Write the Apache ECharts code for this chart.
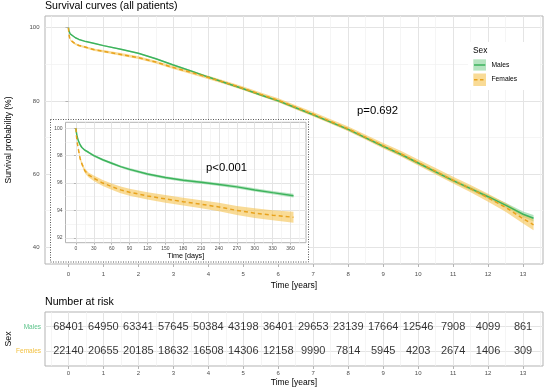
<!DOCTYPE html>
<html><head><meta charset="utf-8">
<script src="https://cdn.jsdelivr.net/npm/echarts@6/dist/echarts.min.js"></script>
<style>html,body{margin:0;padding:0;background:#fff}#c{width:550px;height:391px}</style>
</head><body><div id="c"></div>
<script>
// ---------------- DATA ----------------
// Main curves (time in years, survival %)
const yearsT = [0, 0.01, 0.02, 0.05, 0.1, 0.2, 0.3, 0.5, 0.75, 1, 1.5, 2, 2.5, 3, 3.5, 4, 4.5, 5, 5.5, 6, 6.5, 7, 7.5, 8, 8.5, 9, 9.5, 10, 10.5, 11, 11.5, 12, 12.5, 13, 13.3];
const malesMain = [100, 99.3, 98.8, 98.3, 97.9, 97.25, 96.8, 96.2, 95.7, 95.1, 94.1, 93.0, 91.5, 89.8, 88.2, 86.5, 84.9, 83.3, 81.6, 80.0, 78.1, 76.2, 74.2, 72.2, 69.9, 67.6, 65.4, 63.0, 60.6, 58.2, 56.0, 53.8, 51.5, 49.0, 47.9];
const femalesMain = [100, 98.7, 97.8, 96.7, 96.2, 95.55, 95.15, 94.64, 93.95, 93.55, 92.7, 91.8, 90.6, 89.1, 87.8, 86.4, 84.95, 83.4, 81.75, 80.15, 78.25, 76.35, 74.35, 72.35, 70.05, 67.75, 65.55, 63.15, 60.75, 58.3, 56.0, 53.5, 50.9, 47.8, 46.1];
const malesMainCI = [0, 0.05, 0.08, 0.1, 0.1, 0.12, 0.12, 0.13, 0.14, 0.15, 0.17, 0.18, 0.2, 0.2, 0.22, 0.22, 0.24, 0.25, 0.26, 0.28, 0.3, 0.3, 0.32, 0.34, 0.36, 0.38, 0.4, 0.42, 0.45, 0.48, 0.52, 0.56, 0.62, 0.75, 0.9];
const femalesMainCI = [0, 0.1, 0.15, 0.2, 0.22, 0.25, 0.27, 0.3, 0.32, 0.34, 0.36, 0.38, 0.4, 0.42, 0.44, 0.46, 0.48, 0.5, 0.52, 0.55, 0.58, 0.6, 0.63, 0.66, 0.7, 0.74, 0.78, 0.82, 0.87, 0.92, 1.0, 1.1, 1.2, 1.35, 1.5];

// Inset curves (time in days, survival %)
const daysT = [0, 1, 2, 4, 7, 10, 15, 21, 30, 45, 60, 75, 90, 120, 150, 180, 210, 240, 270, 300, 330, 365];
const malesInset = [100, 99.65, 99.4, 99.1, 98.8, 98.6, 98.4, 98.25, 98.0, 97.7, 97.45, 97.2, 97.0, 96.66, 96.4, 96.2, 96.05, 95.9, 95.72, 95.5, 95.3, 95.08];
const femalesInset = [100, 99.4, 99.0, 98.5, 97.8, 97.4, 96.9, 96.6, 96.35, 96.0, 95.74, 95.5, 95.33, 95.06, 94.84, 94.64, 94.45, 94.25, 94.0, 93.8, 93.65, 93.5];
const malesInsetCI = [0, 0.02, 0.03, 0.04, 0.05, 0.06, 0.07, 0.07, 0.08, 0.08, 0.09, 0.09, 0.1, 0.1, 0.1, 0.11, 0.11, 0.11, 0.12, 0.12, 0.12, 0.13];
const femalesInsetCI = [0, 0.05, 0.08, 0.1, 0.13, 0.15, 0.17, 0.18, 0.2, 0.22, 0.23, 0.24, 0.25, 0.27, 0.28, 0.29, 0.3, 0.31, 0.33, 0.35, 0.37, 0.4];

// Number at risk
const riskYears = [0, 1, 2, 3, 4, 5, 6, 7, 8, 9, 10, 11, 12, 13];
const malesRisk = [68401, 64950, 63341, 57645, 50384, 43198, 36401, 29653, 23139, 17664, 12546, 7908, 4099, 861];
const femalesRisk = [22140, 20655, 20185, 18632, 16508, 14306, 12158, 9990, 7814, 5945, 4203, 2674, 1406, 309];

// Tick labels
const mainYTicks = [40, 60, 80, 100];
const mainYMinor = [50, 70, 90];
const mainXTicks = [0, 1, 2, 3, 4, 5, 6, 7, 8, 9, 10, 11, 12, 13];
const mainXMinor = [-0.5, 0.5, 1.5, 2.5, 3.5, 4.5, 5.5, 6.5, 7.5, 8.5, 9.5, 10.5, 11.5, 12.5, 13.5];
const insetXTicks = [0, 30, 60, 90, 120, 150, 180, 210, 240, 270, 300, 330, 360];
const insetXMinor = [15, 45, 75, 105, 135, 165, 195, 225, 255, 285, 315, 345, 375];
const insetYTicks = [92, 94, 96, 98, 100];
const insetYMinor = [93, 95, 97, 99];

// ---------------- STYLE ----------------
const FONT = 'Liberation Sans, Arial, Helvetica, sans-serif';
const GREEN = '#3DB35C', ORANGE = '#E8A21C';
const GREEN_BAND = 'rgba(120,205,140,0.55)', ORANGE_BAND = 'rgba(245,195,80,0.6)';
const GRID_MAJ = '#E4E4E4', GRID_MIN = '#F0F0F0', BORDER = '#B3B3B3', LABEL = '#4D4D4D';

function pairs(xs, ys) { return xs.map((x, i) => [x, ys[i]]); }

function curve(name, xs, ys, ci, xi, yi, color, band, dashed, z) {
  const lo = ys.map((v, i) => v - ci[i]);
  const hi = ys.map((v, i) => v + ci[i]);
  return [
    { type: 'custom', name: name + '_ci', xAxisIndex: xi, yAxisIndex: yi, silent: true, z: z, animation: false,
      data: [[xs[0], ys[0]]],
      renderItem: function (params, api) {
        const pts = [];
        for (let i = 0; i < xs.length; i++) pts.push(api.coord([xs[i], hi[i]]));
        for (let i = xs.length - 1; i >= 0; i--) pts.push(api.coord([xs[i], lo[i]]));
        return { type: 'polygon', shape: { points: pts }, style: { fill: band, stroke: null } };
      } },
    { type: 'line', name: name, xAxisIndex: xi, yAxisIndex: yi, data: pairs(xs, ys),
      symbol: 'none', lineStyle: { color: color, width: 1.5, type: dashed ? [4, 3] : 'solid' }, z: z + 1, animation: false }
  ];
}

function valAxis(o) {
  return Object.assign({
    type: 'value', axisLine: { show: false }, nameMoveOverlap: false,
    axisTick: { show: true, length: 3, lineStyle: { color: BORDER, width: 1 } },
    axisLabel: { fontSize: 6, color: LABEL, fontFamily: FONT },
    splitLine: { show: true, lineStyle: { color: GRID_MAJ, width: 1 } },
    nameTextStyle: { fontFamily: FONT, color: '#000' }
  }, o);
}
function minorAxis(o) {
  return Object.assign({
    type: 'value', axisLine: { show: false }, axisTick: { show: false }, axisLabel: { show: false },
    splitLine: { show: true, lineStyle: { color: GRID_MIN, width: 0.7 } }
  }, o);
}

const MX = [-0.67, 13.57];
const MY = [35.4, 103.2];
const IX = [-17.5, 386];
const IY = [91.64, 100.44];

const series = [];
series.push(...curve('Males', yearsT, malesMain, malesMainCI, 0, 0, GREEN, GREEN_BAND, false, 2));
series.push(...curve('Females', yearsT, femalesMain, femalesMainCI, 0, 0, ORANGE, ORANGE_BAND, true, 2));
series.push(...curve('MalesInset', daysT, malesInset, malesInsetCI, 2, 2, GREEN, GREEN_BAND, false, 8));
series.push(...curve('FemalesInset', daysT, femalesInset, femalesInsetCI, 2, 2, ORANGE, ORANGE_BAND, true, 8));
series.push({
  type: 'scatter', xAxisIndex: 4, yAxisIndex: 4, symbolSize: 0, animation: false,
  data: riskYears.map((t, i) => [t, 2, malesRisk[i]]),
  label: { show: true, position: 'inside', formatter: p => String(p.value[2]), fontSize: 11, color: '#000', fontFamily: FONT }
});
series.push({
  type: 'scatter', xAxisIndex: 4, yAxisIndex: 4, symbolSize: 0, animation: false,
  data: riskYears.map((t, i) => [t, 1, femalesRisk[i]]),
  label: { show: true, position: 'inside', formatter: p => String(p.value[2]), fontSize: 11, color: '#000', fontFamily: FONT }
});

const option = {
  backgroundColor: '#fff',
  animation: false,
  textStyle: { fontFamily: FONT },
  title: [
    { text: 'Survival curves (all patients)', left: 45, top: 1, padding: 0, textStyle: { fontSize: 10.6, fontWeight: 'normal', color: '#000', fontFamily: FONT } },
    { text: 'Number at risk', left: 45, top: 296.5, padding: 0, textStyle: { fontSize: 10.6, fontWeight: 'normal', color: '#000', fontFamily: FONT } }
  ],
  grid: [
    { left: 45, top: 16, width: 498, height: 248, show: true, borderColor: BORDER, borderWidth: 1, backgroundColor: '#fff', z: 0, containLabel: false, outerBoundsMode: 'none' },
    { left: 65.5, top: 122.3, width: 240.5, height: 120.4, show: true, borderColor: BORDER, borderWidth: 1, backgroundColor: '#fff', z: 4, containLabel: false, outerBoundsMode: 'none' },
    { left: 45, top: 312, width: 498, height: 54, show: true, borderColor: BORDER, borderWidth: 1, backgroundColor: '#fff', z: 0, containLabel: false, outerBoundsMode: 'none' }
  ],
  xAxis: [
    valAxis({ gridIndex: 0, min: MX[0], max: MX[1],
      axisTick: { show: true, length: 3, customValues: mainXTicks, lineStyle: { color: BORDER } },
      axisLabel: { customValues: mainXTicks, fontSize: 6, color: LABEL, margin: 7.5, fontFamily: FONT },
      name: 'Time [years]', nameLocation: 'middle', nameGap: 17, nameTextStyle: { fontSize: 8.5, color: '#000', fontFamily: FONT } }),
    minorAxis({ gridIndex: 0, min: MX[0], max: MX[1], axisTick: { show: false, customValues: mainXMinor } }),
    valAxis({ gridIndex: 1, min: IX[0], max: IX[1], z: 5,
      axisTick: { show: true, length: 2, customValues: insetXTicks, lineStyle: { color: BORDER } },
      axisLabel: { customValues: insetXTicks, fontSize: 5, color: LABEL, margin: 3, fontFamily: FONT },
      name: 'Time [days]', nameLocation: 'middle', nameGap: 10, nameTextStyle: { fontSize: 7.2, color: '#000', fontFamily: FONT } }),
    minorAxis({ gridIndex: 1, min: IX[0], max: IX[1], z: 5, axisTick: { show: false, customValues: insetXMinor } }),
    valAxis({ gridIndex: 2, min: MX[0], max: MX[1],
      axisTick: { show: true, length: 3, customValues: mainXTicks, lineStyle: { color: BORDER } },
      axisLabel: { customValues: mainXTicks, fontSize: 6, color: LABEL, margin: 4.5, fontFamily: FONT },
      name: 'Time [years]', nameLocation: 'middle', nameGap: 12.5, nameTextStyle: { fontSize: 8.5, color: '#000', fontFamily: FONT } }),
    minorAxis({ gridIndex: 2, min: MX[0], max: MX[1], axisTick: { show: false, customValues: mainXMinor } })
  ],
  yAxis: [
    valAxis({ gridIndex: 0, min: MY[0], max: MY[1],
      axisTick: { show: true, length: 3, customValues: mainYTicks, lineStyle: { color: BORDER } },
      axisLabel: { customValues: mainYTicks, fontSize: 6, color: LABEL, margin: 5.5, fontFamily: FONT },
      name: 'Survival probability (%)', nameLocation: 'middle', nameGap: 32, nameTextStyle: { fontSize: 8.5, color: '#000', fontFamily: FONT } }),
    minorAxis({ gridIndex: 0, min: MY[0], max: MY[1], axisTick: { show: false, customValues: mainYMinor } }),
    valAxis({ gridIndex: 1, min: IY[0], max: IY[1], z: 5,
      axisTick: { show: true, length: 2, customValues: insetYTicks, lineStyle: { color: BORDER } },
      axisLabel: { customValues: insetYTicks, fontSize: 5, color: LABEL, margin: 3, fontFamily: FONT } }),
    minorAxis({ gridIndex: 1, min: IY[0], max: IY[1], z: 5, axisTick: { show: false, customValues: insetYMinor } }),
    valAxis({ gridIndex: 2, min: 0.4, max: 2.6,
      axisTick: { show: true, length: 3, customValues: [1, 2], lineStyle: { color: BORDER } },
      axisLabel: { customValues: [1, 2], fontSize: 6.5, margin: 4, fontFamily: FONT,
        formatter: v => (Number(v) === 2 ? 'Males' : 'Females'),
        color: v => (Number(v) === 2 ? '#5CC38A' : '#F2C040') },
      name: 'Sex', nameLocation: 'middle', nameGap: 32, nameTextStyle: { fontSize: 8.7, color: '#000', fontFamily: FONT } })
  ],
  graphic: [
    { type: 'rect', z: 3, silent: true, shape: { x: 50.5, y: 119.5, width: 258, height: 142.5 },
      style: { fill: '#fff', stroke: '#555', lineWidth: 1, lineDash: [1, 1.5] } },
    { type: 'text', z: 10, left: 206, top: 162.5, style: { text: 'p<0.001', font: '11.3px ' + FONT, fill: '#000' } },
    { type: 'text', z: 10, left: 357, top: 105.5, style: { text: 'p=0.692', font: '11.3px ' + FONT, fill: '#000' } },
    { type: 'rect', z: 10, silent: true, shape: { x: 468, y: 42, width: 72, height: 48 }, style: { fill: '#fff' } },
    { type: 'text', z: 11, left: 473, top: 46.5, style: { text: 'Sex', font: '8.3px ' + FONT, fill: '#000' } },
    { type: 'rect', z: 11, silent: true, shape: { x: 473.3, y: 59.3, width: 12.7, height: 11.3 }, style: { fill: GREEN_BAND } },
    { type: 'line', z: 12, silent: true, shape: { x1: 474, y1: 65, x2: 485.3, y2: 65 }, style: { stroke: GREEN, lineWidth: 1.5 } },
    { type: 'rect', z: 11, silent: true, shape: { x: 473.3, y: 73.5, width: 12.7, height: 12.5 }, style: { fill: ORANGE_BAND } },
    { type: 'line', z: 12, silent: true, shape: { x1: 474, y1: 79.8, x2: 485.3, y2: 79.8 }, style: { stroke: ORANGE, lineWidth: 1.5, lineDash: [3.5, 2.5] } },
    { type: 'text', z: 11, left: 491.5, top: 61.2, style: { text: 'Males', font: '6.7px ' + FONT, fill: '#000' } },
    { type: 'text', z: 11, left: 491.5, top: 76, style: { text: 'Females', font: '6.7px ' + FONT, fill: '#000' } }
  ],
  series: series
};

const chart = echarts.init(document.getElementById('c'), null, { renderer: 'canvas' });
chart.setOption(option);
</script>
</body></html>
